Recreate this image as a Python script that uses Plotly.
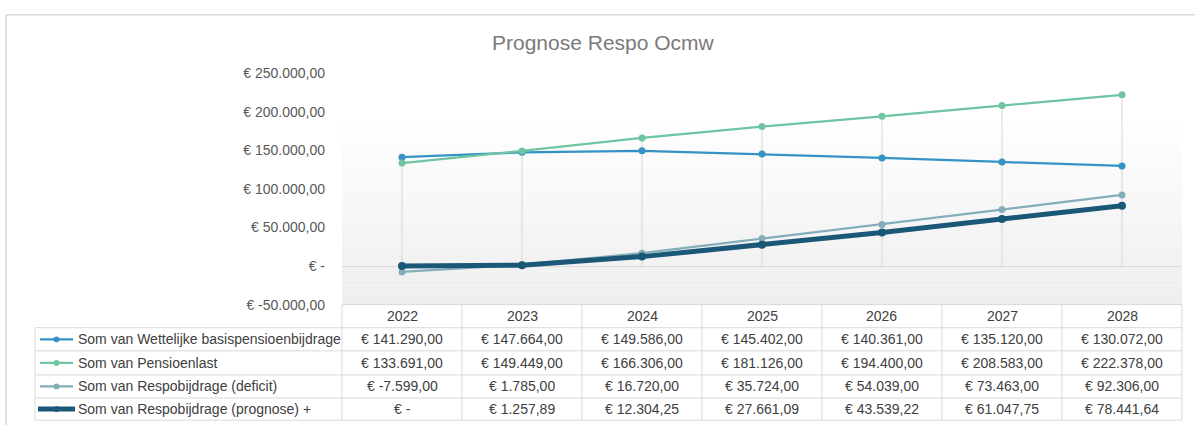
import plotly.graph_objects as go

W, H = 1195, 433

years = ["2022", "2023", "2024", "2025", "2026", "2027", "2028"]
series_names = [
    "Som van Wettelijke basispensioenbijdrage",
    "Som van Pensioenlast",
    "Som van Respobijdrage (deficit)",
    "Som van Respobijdrage (prognose) +",
]
wettelijke = [141290.00, 147664.00, 149586.00, 145402.00, 140361.00, 135120.00, 130072.00]
pensioenlast = [133691.00, 149449.00, 166306.00, 181126.00, 194400.00, 208583.00, 222378.00]
deficit = [-7599.00, 1785.00, 16720.00, 35724.00, 54039.00, 73463.00, 92306.00]
prognose = [0.00, 1257.89, 12304.25, 27661.09, 43539.22, 61047.75, 78441.64]
y_ticks = [-50000, 0, 50000, 100000, 150000, 200000, 250000]

all_series = [wettelijke, pensioenlast, deficit, prognose]
colors = ["#3592c4", "#6fc4a1", "#84adba", "#1b5877"]
widths = [2.25, 2.25, 2.25, 5]
msizes = [7, 7, 7, 8]

FONT = "Liberation Sans, Arial, sans-serif"


def fmt(v):
    if v == 0:
        return "€ -"
    s = f"{abs(v):,.2f}".replace(",", "#").replace(".", ",").replace("#", ".")
    return "€ " + ("-" if v < 0 else "") + s


def px(x):
    return x / W


def py(y):
    return 1 - y / H


fig = go.Figure()

# drop lines from the highest point to the category axis
dx, dy = [], []
for i, yr in enumerate(years):
    top = max(s[i] for s in all_series)
    dx += [yr, yr, None]
    dy += [top, 0, None]
fig.add_trace(go.Scatter(x=dx, y=dy, mode="lines", line=dict(color="#d6d6d6", width=1),
                         hoverinfo="skip", showlegend=False))

for name, vals, c, w, ms in zip(series_names, all_series, colors, widths, msizes):
    fig.add_trace(go.Scatter(x=years, y=vals, name=name, mode="lines+markers",
                             line=dict(color=c, width=w),
                             marker=dict(color=c, size=ms), showlegend=False))

shapes = []
annotations = []

# background gradient inside plot area
g_top, g_bot = 110, 308
n = 40
for k in range(n):
    y0 = g_top + (g_bot - g_top) * k / n
    y1 = g_top + (g_bot - g_top) * (k + 1) / n
    t = (k + 0.5) / n
    v = int(round(255 - t * (255 - 238)))
    col = f"rgb({v},{v},{v})"
    shapes.append(dict(type="rect", xref="paper", yref="paper", layer="below",
                       x0=px(342), x1=px(1182), y0=py(y1), y1=py(y0),
                       fillcolor=col, line=dict(width=0)))

# outer frame
shapes.append(dict(type="line", xref="paper", yref="paper", x0=px(6), x1=1, y0=py(7), y1=py(7),
                   line=dict(color="#d9d9d9", width=1.5)))
shapes.append(dict(type="line", xref="paper", yref="paper", x0=px(6), x1=px(6), y0=py(7), y1=0,
                   line=dict(color="#d9d9d9", width=1.5)))

# data table
col_x = [342 + 120 * i for i in range(len(years) + 1)]
row_y = [308, 332, 356, 381, 405, 428]
bc = "#d9d9d9"
shapes.append(dict(type="line", xref="paper", yref="paper", x0=px(342), x1=px(1182),
                   y0=py(308), y1=py(308), line=dict(color=bc, width=1)))
for ry in row_y[1:]:
    shapes.append(dict(type="line", xref="paper", yref="paper", x0=px(35), x1=px(1182),
                       y0=py(ry), y1=py(ry), line=dict(color=bc, width=1)))
shapes.append(dict(type="line", xref="paper", yref="paper", x0=px(35), x1=px(35),
                   y0=py(332), y1=py(428), line=dict(color=bc, width=1)))
for cx in col_x:
    shapes.append(dict(type="line", xref="paper", yref="paper", x0=px(cx), x1=px(cx),
                       y0=py(308), y1=py(428), line=dict(color=bc, width=1)))

tfont = dict(family=FONT, size=14, color="#404040")
for i, yr in enumerate(years):
    annotations.append(dict(xref="paper", yref="paper", x=px(col_x[i] + 60), y=py(320),
                            text=yr, showarrow=False, xanchor="center", yanchor="middle",
                            font=tfont))
for r, (name, vals, c, w) in enumerate(zip(series_names, all_series, colors, widths)):
    cy = (row_y[r + 1] + row_y[r + 2]) / 2
    annotations.append(dict(xref="paper", yref="paper", x=px(76), y=py(cy), text=name,
                            showarrow=False, xanchor="left", yanchor="middle", font=tfont))
    lx0, lx1 = (38, 75) if w > 3 else (40, 73)
    shapes.append(dict(type="line", xref="paper", yref="paper", x0=px(lx0), x1=px(lx1),
                       y0=py(cy), y1=py(cy), line=dict(color=c, width=w)))
    shapes.append(dict(type="circle", xref="paper", yref="paper", x0=px(53.5), x1=px(59.5),
                       y0=py(cy + 3), y1=py(cy - 3), fillcolor=c, line=dict(width=0)))
    for i, v in enumerate(vals):
        annotations.append(dict(xref="paper", yref="paper", x=px(col_x[i] + 60), y=py(cy),
                                text=fmt(v), showarrow=False, xanchor="center",
                                yanchor="middle", font=tfont))

# title
annotations.append(dict(xref="paper", yref="paper", x=px(603), y=py(36), text="Prognose Respo Ocmw",
                        showarrow=False, xanchor="center", yanchor="middle",
                        font=dict(family=FONT, size=21, color="#7a7a7a")))

fig.update_layout(
    width=W, height=H,
    margin=dict(l=0, r=0, t=0, b=0),
    paper_bgcolor="white",
    plot_bgcolor="rgba(0,0,0,0)",
    shapes=shapes,
    annotations=annotations,
    hovermode=False,
    xaxis=dict(domain=[px(342), px(1182)], range=[-0.5, len(years) - 0.5], type="category",
               showgrid=False, showticklabels=False, zeroline=False, showline=False,
               fixedrange=True),
    yaxis=dict(domain=[py(308), py(68)], range=[-50000, 250000],
               tickvals=y_ticks, ticktext=[fmt(v) for v in y_ticks],
               showgrid=False, zeroline=True, zerolinecolor="#d9d9d9", zerolinewidth=1,
               showline=False, ticks="", ticklabelstandoff=16,
               tickfont=dict(family=FONT, size=14, color="#595959"), fixedrange=True),
)

fig.write_html(
    "out.html",
    config={"displayModeBar": False, "staticPlot": True},
    post_script="document.body.style.margin='0px';document.body.style.overflow='hidden';",
)
